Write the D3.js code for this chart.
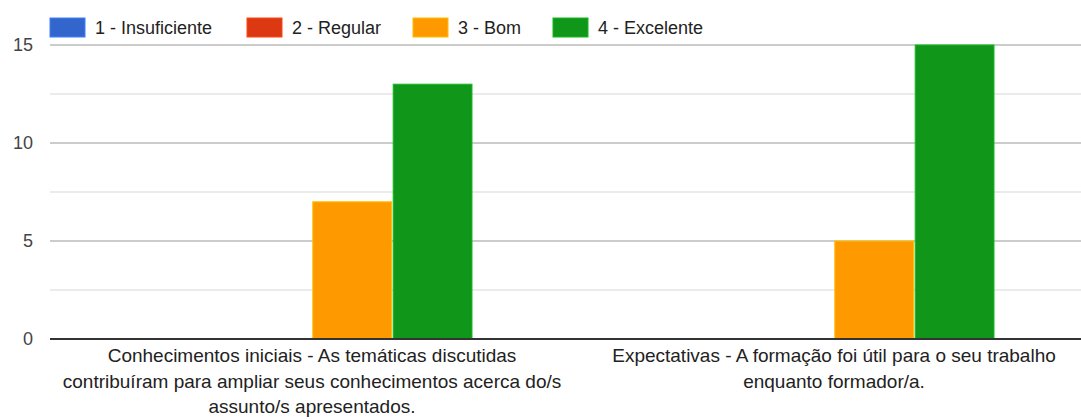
<!DOCTYPE html>
<html>
<head>
<meta charset="utf-8">
<script src="https://cdn.jsdelivr.net/npm/d3@7"></script>
<style>
  html, body { margin: 0; padding: 0; background: #fff; }
  svg { display: block; font-family: Arial, "Liberation Sans", sans-serif; }
</style>
</head>
<body>
<svg id="chart" width="1081" height="420"></svg>
<script>
const categories = [
  "Conhecimentos iniciais - As temáticas discutidas contribuíram para ampliar seus conhecimentos acerca do/s assunto/s apresentados.",
  "Expectativas - A formação foi útil para o seu trabalho enquanto formador/a."
];
const seriesNames = ["1 - Insuficiente", "2 - Regular", "3 - Bom", "4 - Excelente"];
const seriesColors = ["#3366cc", "#dc3912", "#ff9900", "#109618"];
const insuficiente = [0, 0];
const regular = [0, 0];
const bom = [7, 5];
const excelente = [13, 15];
const yTicks = [0, 5, 10, 15];
const yMinorTicks = [2.5, 7.5, 12.5];

const seriesValues = [insuficiente, regular, bom, excelente];

const svg = d3.select("#chart");
const W = 1081;

const x0 = d3.scaleBand().domain(categories).range([51, 1095])
  .paddingInner(0.387).paddingOuter(0.1935);
const x1 = d3.scaleBand().domain(seriesNames).range([0, x0.bandwidth()]).paddingInner(0.02);
const y = d3.scaleLinear().domain([0, 15]).range([339, 45]);

// gridlines
svg.append("g").selectAll("line").data(yMinorTicks).join("line")
  .attr("x1", 50).attr("x2", W).attr("y1", d => y(d)).attr("y2", d => y(d))
  .attr("stroke", "#ebebeb").attr("stroke-width", 2);
svg.append("g").selectAll("line").data(yTicks.filter(d => d !== 0)).join("line")
  .attr("x1", 50).attr("x2", W).attr("y1", d => y(d)).attr("y2", d => y(d))
  .attr("stroke", "#cccccc").attr("stroke-width", 2);

// y axis labels
const yAxis = d3.axisLeft(y).tickValues(yTicks).tickSize(0).tickPadding(0).tickFormat(d3.format("d"));
const ya = svg.append("g").attr("transform", "translate(33,0)").call(yAxis);
ya.select(".domain").remove();
ya.selectAll("text").attr("font-size", 18).attr("fill", "#444")
  .attr("font-family", "Arial, 'Liberation Sans', sans-serif");

// bars
const rows = categories.map((c, i) => ({ cat: c, vals: seriesNames.map((s, j) => ({ s, j, v: seriesValues[j][i] })) }));
const g = svg.append("g").selectAll("g").data(rows).join("g")
  .attr("transform", d => `translate(${x0(d.cat)},0)`);
g.selectAll("rect").data(d => d.vals.filter(v => v.v > 0)).join("rect")
  .attr("x", d => x1(d.s))
  .attr("width", x1.bandwidth())
  .attr("y", d => y(d.v))
  .attr("height", d => y(0) - y(d.v))
  .attr("fill", d => seriesColors[d.j])
  .attr("stroke", d => d3.color(seriesColors[d.j]).brighter(0.6))
  .attr("stroke-width", 1);

// baseline
svg.append("line").attr("x1", 50).attr("x2", W).attr("y1", y(0)).attr("y2", y(0))
  .attr("stroke", "#333").attr("stroke-width", 2);

// x axis labels with wrap
const xAxis = d3.axisBottom(x0).tickSize(0).tickPadding(0);
const xa = svg.append("g").call(xAxis);
xa.select(".domain").remove();
xa.selectAll(".tick").attr("transform", d => `translate(${x0(d) + x0.bandwidth() / 2},0)`);
xa.selectAll("text").attr("font-size", 19).attr("fill", "#222")
  .attr("font-family", "Arial, 'Liberation Sans', sans-serif")
  .attr("y", 0).attr("dy", null)
  .each(function(d) {
    const t = d3.select(this);
    const words = d.split(" ");
    t.text(null);
    let lines = [], line = [];
    let tsp = t.append("tspan");
    for (const w of words) {
      line.push(w);
      tsp.text(line.join(" "));
      if (tsp.node().getComputedTextLength() > 500 && line.length > 1) {
        line.pop();
        lines.push(line.join(" "));
        line = [w];
        tsp.text(w);
      }
    }
    lines.push(line.join(" "));
    t.text(null);
    lines.forEach((l, i) => {
      t.append("tspan").attr("x", 0).attr("y", 362 + i * 25.5).text(l);
    });
  });

// legend
const legendX = [50, 247, 413, 553];
const lg = svg.append("g").selectAll("g").data(seriesNames).join("g")
  .attr("transform", (d, i) => `translate(${legendX[i]},0)`);
lg.append("rect").attr("x", 0).attr("y", 18).attr("width", 35).attr("height", 19)
  .attr("fill", (d, i) => seriesColors[i])
  .attr("stroke", (d, i) => d3.color(seriesColors[i]).brighter(0.6)).attr("stroke-width", 1);
lg.append("text").attr("x", 45).attr("y", 34).attr("font-size", 18).attr("fill", "#222")
  .text(d => d);
</script>
</body>
</html>
